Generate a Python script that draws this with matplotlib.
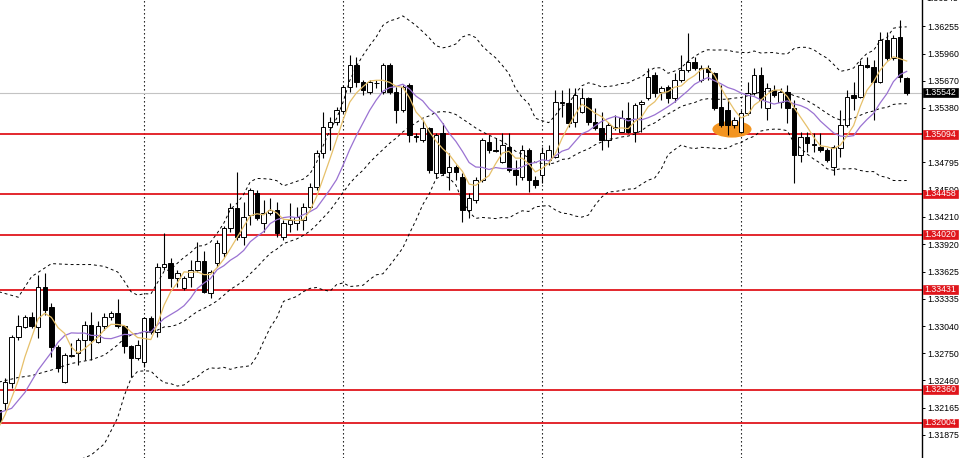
import numpy as np
import pandas as pd
import matplotlib
matplotlib.use('Agg')
import matplotlib.pyplot as plt
from matplotlib.patches import Rectangle, Ellipse
from matplotlib.transforms import blended_transform_factory

# H4 candles (oldest first)
opens = [1.3214, 1.3222, 1.3243, 1.3292, 1.3303, 1.3314, 1.3303, 1.3346, 1.3325, 1.3282,
         1.3244, 1.3272, 1.3275, 1.3289, 1.3305, 1.3287, 1.3304, 1.3314, 1.3318, 1.3304,
         1.3283, 1.3270, 1.3266, 1.3313, 1.3298, 1.3367, 1.3372, 1.3356, 1.3345, 1.3357,
         1.3364, 1.3374, 1.3340, 1.3372, 1.3382, 1.3409, 1.3431, 1.3400, 1.3423, 1.3447,
         1.3415, 1.3425, 1.3428, 1.3400, 1.3413, 1.3415, 1.3418, 1.3432, 1.3453, 1.3490,
         1.3517, 1.3523, 1.3535, 1.3560, 1.3584, 1.3566, 1.3555, 1.3565, 1.3555, 1.3584,
         1.3555, 1.3536, 1.3562, 1.3508, 1.3503, 1.3516, 1.3468, 1.3511, 1.3469, 1.3475,
         1.3464, 1.3428, 1.3439, 1.3461, 1.3501, 1.3493, 1.3480, 1.3496, 1.3471, 1.3464,
         1.3493, 1.3461, 1.3466, 1.3482, 1.3485, 1.3544, 1.3543, 1.3523, 1.3533, 1.3548,
         1.3523, 1.3516, 1.3503, 1.3517, 1.3512, 1.3527, 1.3512, 1.3542, 1.3548, 1.3573,
         1.3555, 1.3560, 1.3548, 1.3568, 1.3578, 1.3587, 1.3568, 1.3581, 1.3575, 1.3539,
         1.3536, 1.3520, 1.3512, 1.3532, 1.3554, 1.3573, 1.3538, 1.3557, 1.3544, 1.3555,
         1.3538, 1.3487, 1.3507, 1.3498, 1.3496, 1.3493, 1.3475, 1.3495, 1.3520, 1.3552,
         1.3549, 1.3584, 1.3582, 1.3566, 1.3611, 1.3591, 1.3614, 1.3570]
highs = [1.3220, 1.3249, 1.3295, 1.3316, 1.3316, 1.3319, 1.3359, 1.3361, 1.3329, 1.3284,
         1.3275, 1.3286, 1.3291, 1.3309, 1.3319, 1.3309, 1.3318, 1.3320, 1.3333, 1.3305,
         1.3284, 1.3289, 1.3314, 1.3315, 1.3372, 1.3404, 1.3377, 1.3364, 1.3358, 1.3375,
         1.3394, 1.3384, 1.3364, 1.3396, 1.3411, 1.3436, 1.3469, 1.3437, 1.3452, 1.3450,
         1.3439, 1.3441, 1.3437, 1.3418, 1.3436, 1.3432, 1.3436, 1.3457, 1.3493, 1.3533,
         1.3528, 1.3539, 1.3562, 1.3595, 1.3592, 1.3568, 1.3568, 1.3568, 1.3586, 1.3586,
         1.3560, 1.3562, 1.3565, 1.3511, 1.3525, 1.3517, 1.3511, 1.3522, 1.3490, 1.3477,
         1.3468, 1.3447, 1.3464, 1.3506, 1.3509, 1.3506, 1.3511, 1.3511, 1.3482, 1.3498,
         1.3495, 1.3465, 1.3496, 1.3498, 1.3557, 1.3557, 1.3559, 1.3559, 1.3559, 1.3549,
         1.3538, 1.3533, 1.3523, 1.3530, 1.3536, 1.3544, 1.3543, 1.3546, 1.3581, 1.3576,
         1.3561, 1.3562, 1.3575, 1.3595, 1.3618, 1.3592, 1.3584, 1.3584, 1.3576, 1.3562,
         1.3548, 1.3528, 1.3536, 1.3566, 1.3581, 1.3582, 1.3565, 1.3562, 1.3559, 1.3562,
         1.3546, 1.3512, 1.3512, 1.3511, 1.3511, 1.3495, 1.3498, 1.3536, 1.3557, 1.3566,
         1.3589, 1.3592, 1.3589, 1.3619, 1.3619, 1.3616, 1.3632, 1.3571]
lows = [1.3195, 1.3214, 1.3238, 1.3289, 1.3302, 1.3302, 1.3291, 1.3316, 1.3271, 1.3255,
        1.3243, 1.3271, 1.3262, 1.3268, 1.3268, 1.3286, 1.3300, 1.3311, 1.3302, 1.3275,
        1.3250, 1.3268, 1.3260, 1.3296, 1.3292, 1.3364, 1.3346, 1.3346, 1.3343, 1.3346,
        1.3362, 1.3339, 1.3334, 1.3367, 1.3378, 1.3405, 1.3396, 1.3391, 1.3412, 1.3418,
        1.3405, 1.3423, 1.3400, 1.3396, 1.3405, 1.3407, 1.3407, 1.3431, 1.3450, 1.3484,
        1.3493, 1.3520, 1.3532, 1.3555, 1.3560, 1.3552, 1.3553, 1.3559, 1.3553, 1.3553,
        1.3522, 1.3533, 1.3501, 1.3501, 1.3501, 1.3468, 1.3463, 1.3466, 1.3450, 1.3461,
        1.3416, 1.3420, 1.3436, 1.3458, 1.3490, 1.3491, 1.3479, 1.3469, 1.3455, 1.3461,
        1.3448, 1.3452, 1.3457, 1.3477, 1.3484, 1.3528, 1.3517, 1.3517, 1.3532, 1.3520,
        1.3514, 1.3493, 1.3496, 1.3514, 1.3512, 1.3511, 1.3501, 1.3512, 1.3546, 1.3549,
        1.3546, 1.3543, 1.3544, 1.3566, 1.3576, 1.3578, 1.3566, 1.3568, 1.3536, 1.3517,
        1.3509, 1.3516, 1.3511, 1.3530, 1.3552, 1.3538, 1.3525, 1.3549, 1.3538, 1.3522,
        1.3457, 1.3480, 1.3491, 1.3491, 1.3491, 1.3480, 1.3466, 1.3485, 1.3517, 1.3536,
        1.3548, 1.3581, 1.3525, 1.3565, 1.3589, 1.3589, 1.3566, 1.3552]
closes = [1.3201, 1.3244, 1.3292, 1.3304, 1.3314, 1.3304, 1.3346, 1.3321, 1.3282, 1.3259,
          1.3273, 1.3273, 1.3289, 1.3305, 1.3289, 1.3304, 1.3314, 1.3318, 1.3304, 1.3283,
          1.3270, 1.3284, 1.3313, 1.3298, 1.3367, 1.3371, 1.3356, 1.3361, 1.3356, 1.3364,
          1.3374, 1.3341, 1.3362, 1.3393, 1.3409, 1.3431, 1.3400, 1.3421, 1.3450, 1.3420,
          1.3425, 1.3428, 1.3404, 1.3415, 1.3418, 1.3421, 1.3432, 1.3453, 1.3490, 1.3517,
          1.3523, 1.3536, 1.3560, 1.3584, 1.3566, 1.3557, 1.3566, 1.3564, 1.3584, 1.3555,
          1.3536, 1.3560, 1.3509, 1.3507, 1.3516, 1.3471, 1.3509, 1.3468, 1.3475, 1.3469,
          1.3428, 1.3441, 1.3461, 1.3503, 1.3493, 1.3492, 1.3498, 1.3471, 1.3466, 1.3493,
          1.3461, 1.3455, 1.3490, 1.3493, 1.3544, 1.3543, 1.3522, 1.3552, 1.3548, 1.3523,
          1.3516, 1.3503, 1.3520, 1.3516, 1.3527, 1.3512, 1.3541, 1.3544, 1.3571, 1.3554,
          1.3559, 1.3548, 1.3568, 1.3578, 1.3587, 1.3581, 1.3581, 1.3576, 1.3538, 1.3520,
          1.3520, 1.3525, 1.3532, 1.3554, 1.3573, 1.3546, 1.3559, 1.3552, 1.3555, 1.3538,
          1.3487, 1.3507, 1.3500, 1.3499, 1.3493, 1.3482, 1.3496, 1.3520, 1.3549, 1.3548,
          1.3584, 1.3582, 1.3566, 1.3611, 1.3591, 1.3613, 1.3571, 1.35542]

# indicator values at the left edge (need bars before the window)
ma5_head_idx = [0, 1, 2, 3]
ma5_head = [1.3195, 1.3209, 1.3227, 1.3246]
ma10_head_idx = [0, 2, 4, 6, 8]
ma10_head = [1.3211, 1.3216, 1.3233, 1.3257, 1.3276]
bb_head_idx = [0, 3, 5, 8, 11, 14, 16, 18]
bb_head_upper = [1.3341, 1.3335, 1.3357, 1.3371, 1.3370, 1.3370, 1.3368, 1.3362]
bb_head_mid = [1.3244, 1.3249, 1.3251, 1.3257, 1.3264, 1.3268, 1.3273, 1.3284]
bb_head_lower = [1.3148, 1.3162, 1.3145, 1.3144, 1.3157, 1.3166, 1.3178, 1.3206]

levels = [1.35094, 1.34458, 1.34020, 1.33431, 1.32360, 1.32004]
last_price = 1.35542
week_starts = [22, 52, 82, 112]
axis_ticks = [1.36255, 1.35960, 1.35670, 1.35380, 1.34795, 1.34500, 1.34210,
              1.33920, 1.33625, 1.33335, 1.33040, 1.32750, 1.32460, 1.32165, 1.31875]
top_tick = 1.36545

W, H = 960, 458
fig = plt.figure(figsize=(W / 100, H / 100), dpi=100)
ax = fig.add_axes([0, 0, 922 / W, 1])
y_top = 1.36534
px = 1 / 9335.0  # price per pixel
ax.set_xlim(0.246, 139.31)
ax.set_ylim(y_top - H * px, y_top)

n = len(closes)
idx = np.arange(n)
o, h, l, c = map(np.array, (opens, highs, lows, closes))

# week separators
for b in week_starts:
    ax.axvline(b, color='black', lw=0.8, ls=(0, (1.2, 2.4)), zorder=1)

# current price line
ax.axhline(last_price, color='#c3c3c3', lw=0.8, zorder=1)

# support / resistance levels
for lv in levels:
    ax.axhline(lv, color='#e0161c', lw=1.3, zorder=2)

# highlight
ax.add_patch(Ellipse((110.65, 1.35150), 5.9, 0.0018, color='#f39420', lw=0, zorder=2.5))

# candles
ax.vlines(idx, l, h, color='black', lw=0.8, zorder=3)
body_lo = np.minimum(o, c)
body_h = np.maximum(np.abs(c - o), 0.00002)
colors = ['white' if cc >= oo else 'black' for oo, cc in zip(o, c)]
ax.bar(idx, body_h, bottom=body_lo, width=0.68, color=colors,
       edgecolor='black', linewidth=0.7, zorder=4)

# indicators
cs = pd.Series(c)
ma5 = cs.rolling(5).mean()
ma10 = cs.rolling(10).mean()
mid = cs.rolling(20).mean()
sd = cs.rolling(20).std(ddof=0)
upper = mid + 2 * sd
lower = mid - 2 * sd

def join(head_x, head_y, series, start):
    xs = list(head_x) + list(range(start, n))
    ys = list(head_y) + list(series[start:])
    return xs, ys

dash = dict(color='black', lw=0.7, ls=(0, (3, 3)), zorder=5)
ax.plot(*join(bb_head_idx, bb_head_upper, upper, 19), **dash)
ax.plot(*join(bb_head_idx, bb_head_mid, mid, 19), **dash)
ax.plot(*join(bb_head_idx, bb_head_lower, lower, 19), **dash)
ax.plot(*join(ma10_head_idx, ma10_head, ma10, 9), color='#9a72d2', lw=0.9, zorder=5)
ax.plot(*join(ma5_head_idx, ma5_head, ma5, 4), color='#e6c06a', lw=0.9, zorder=5)

# right price axis
for s in ['top', 'left', 'bottom']:
    ax.spines[s].set_visible(False)
ax.spines['right'].set_color('black')
ax.spines['right'].set_linewidth(1.0)
ax.set_xticks([])
ax.yaxis.tick_right()
ax.set_yticks(axis_ticks)
ax.set_yticklabels([f'{t:.5f}' for t in axis_ticks])
ax.tick_params(axis='y', length=2.5, width=0.7, pad=1.5, labelsize=6.3, colors='black')
for t in ax.get_yticklabels():
    t.set_family('Liberation Sans')
ax.text(1.0045, top_tick, f'{top_tick:.5f}', transform=blended_transform_factory(ax.transAxes, ax.transData),
        va='center', ha='left', fontsize=6.3, family='Liberation Sans', clip_on=False)

tr = blended_transform_factory(fig.transFigure, ax.transData)
box_h = 8.5 * px

def price_tag(price, face):
    ax.add_patch(Rectangle((923 / W, price - box_h / 2), 35 / W, box_h, transform=tr,
                           facecolor=face, edgecolor=face, lw=0.5, clip_on=False, zorder=10))
    ax.text(940.5 / W, price, f'{price:.5f}', transform=tr, ha='center', va='center',
            color='white', fontsize=6.3, family='Liberation Sans', clip_on=False, zorder=11)

for lv in levels:
    price_tag(lv, '#e0161c')
price_tag(last_price, 'black')

fig.savefig('out.png', dpi=100)
